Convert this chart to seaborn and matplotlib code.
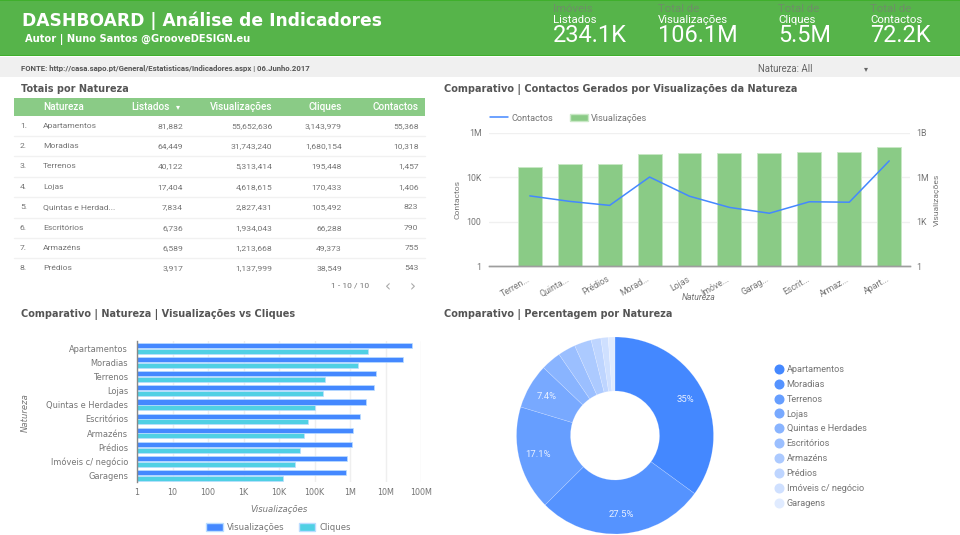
import matplotlib
matplotlib.use("Agg")
import matplotlib.pyplot as plt
from matplotlib.lines import Line2D
from matplotlib.patches import Patch, Rectangle
from matplotlib.transforms import ScaledTranslation
import pandas as pd
import seaborn as sns
import math

# ---------- data ----------
table_names = ["Apartamentos", "Moradias", "Terrenos", "Lojas", "Quintas e Herdad...",
               "Escritórios", "Armazéns", "Prédios"]
table_listados = ["81,882", "64,449", "40,122", "17,404", "7,834", "6,736", "6,589", "3,917"]
table_visual = ["55,652,636", "31,743,240", "5,313,414", "4,618,615", "2,827,431",
                "1,934,043", "1,213,668", "1,137,999"]
table_cliques = ["3,143,979", "1,680,154", "195,448", "170,433", "105,492",
                 "66,288", "49,373", "38,549"]
table_contactos = ["55,368", "10,318", "1,457", "1,406", "823", "790", "755", "543"]

kpi_top = ["Imóveis", "Total de", "Total de", "Total de"]
kpi_mid = ["Listados", "Visualizações", "Cliques", "Contactos"]
kpi_val = ["234.1K", "106.1M", "5.5M", "72.2K"]

combo_labels = ["Terren...", "Quinta...", "Prédios", "Morad...", "Lojas", "Imóve...",
                "Garag...", "Escrit...", "Armaz...", "Apart..."]
combo_views = [4.9e6, 7.5e6, 8.3e6, 3.8e7, 4.4e7, 4.4e7, 4.3e7, 4.9e7, 4.9e7, 1.07e8]
combo_contacts = [1457, 823, 543, 10318, 1406, 440, 240, 790, 755, 55368]

natureza = ["Apartamentos", "Moradias", "Terrenos", "Lojas", "Quintas e Herdades",
            "Escritórios", "Armazéns", "Prédios", "Imóveis c/ negócio", "Garagens"]
h_views = [55652636, 31743240, 5313414, 4618615, 2827431, 1934043, 1213668, 1137999, 810000, 760000]
h_clicks = [3143979, 1680154, 195448, 170433, 105492, 66288, 49373, 38549, 28000, 12600]
share = [35.0, 27.5, 17.1, 7.4, 3.3, 2.9, 2.8, 1.6, 1.2, 1.1]
share_labels = ["35%", "27.5%", "17.1%", "7.4%", "", "", "", "", "", ""]

# ---------- style ----------
GREEN = "#56B44A"
GREEN_EDGE = "#3FAF2C"
LGREEN = "#8ACB86"
BLUE = "#4488FF"
CYAN = "#50D0E4"
GREY = "#757575"
DARK = "#555555"
sns.set_theme(style="white")
plt.rcParams["font.family"] = ["Roboto", "DejaVu Sans"]
plt.rcParams["axes.unicode_minus"] = False

fig = plt.figure(figsize=(9.6, 5.35), dpi=100, facecolor="white")


def axpx(l, t, r, b, **kw):
    return fig.add_axes([l / 960, 1 - b / 535, (r - l) / 960, (b - t) / 535], **kw)


bg = axpx(0, 0, 960, 535)
bg.set_xlim(0, 960)
bg.set_ylim(535, 0)
bg.axis("off")
bg.set_zorder(0)


def px(s):
    return s * 0.72


def T(x, y, s, size, color=GREY, ha="left", weight="normal", family=None, **kw):
    fam = family if family else ["Roboto", "DejaVu Sans"]
    return bg.text(x, y, s, fontsize=px(size), color=color, ha=ha, va="center",
                   fontweight=weight, family=fam, **kw)


# ---------- header ----------
bg.add_patch(Rectangle((0, 0), 960, 55, fc=GREEN, ec="none"))
bg.add_patch(Rectangle((0, 0), 960, 1, fc=GREEN_EDGE, ec="none"))
bg.add_patch(Rectangle((0, 54.5), 960, 1.2, fc=GREEN_EDGE, ec="none"))
bg.add_patch(Rectangle((0, 57), 960, 20, fc="#F0F0F0", ec="none"))
T(22, 20.5, "DASHBOARD | Análise de Indicadores", 17.1, "white", weight="bold", family="DejaVu Sans")
T(25, 39.5, "Autor | Nuno Santos @GrooveDESIGN.eu", 9.9, "white", weight="bold", family="DejaVu Sans")
T(21, 68.5, "FONTE: http://casa.sapo.pt/General/Estatisticas/Indicadores.aspx | 06.Junho.2017",
  7.75, "#555555", weight="bold")
T(758, 68.5, "Natureza: All", 9.6, "#666666")
T(865.7, 68.5, "▾", 8, "#666666", ha="center", family="DejaVu Sans")

for x, a, b, c in zip([553, 658, 778, 870], kpi_top, kpi_mid, kpi_val):
    T(x, 9, a, 11.4, "#6E8F68")
    T(x, 20, b, 11.4, "white")
    T(x, 36, c, 23.5, "white")

# ---------- section titles ----------
for x, y, s in [(21, 88.5, "Totais por Natureza"),
                (444, 89.5, "Comparativo | Contactos Gerados por Visualizações da Natureza"),
                (21, 314, "Comparativo | Natureza | Visualizações vs Cliques"),
                (444, 314.5, "Comparativo | Percentagem por Natureza")]:
    T(x, y, s, 9.8, DARK, weight="bold", family="DejaVu Sans")

# ---------- table ----------
col_right = [183, 272.5, 342, 418.5]
bg.add_patch(Rectangle((14, 98), 411, 18, fc=LGREEN, ec="none"))
T(43, 107, "Natureza", 10, "white", weight="medium")
for xr, s in zip(col_right, ["Listados", "Visualizações", "Cliques", "Contactos"]):
    T(xr - (13 if s == "Listados" else 0), 107, s, 10, "white", ha="right", weight="medium")
T(177.5, 106.5, "▾", 8, "white", ha="center", family="DejaVu Sans")
for i, row in enumerate(zip(table_names, table_listados, table_visual, table_cliques, table_contactos)):
    y = 125.7 + i * 20.4
    T(20, y, f"{i + 1}.", 8.5, GREY)
    T(43, y, row[0], 8.5, GREY)
    for xr, s in zip(col_right, row[1:]):
        T(xr, y, s, 8.5, GREY, ha="right")
    if i < 7:
        bg.plot([14, 425], [y + 10.2, y + 10.2], color="#F1F1F1", lw=1)
T(369, 286, "1 - 10 / 10", 8.5, GREY, ha="right")
T(388, 286.5, "‹", 15, "#A8A8A8", ha="center", family="DejaVu Sans")
T(413, 286.5, "›", 15, "#A8A8A8", ha="center", family="DejaVu Sans")

# ---------- combo chart ----------
ax1 = axpx(489, 133, 910, 266)
ax2 = ax1.twinx()
combo = pd.DataFrame({"n": combo_labels, "views": combo_views, "contacts": combo_contacts})
ax2.set_yscale("log")
sns.barplot(data=combo, x="n", y="views", ax=ax2, color=LGREEN, saturation=1, width=0.6,
            edgecolor="#C9E8C6", linewidth=0.7)
ax1.set_yscale("log")
sns.lineplot(data=combo, x="n", y="contacts", ax=ax1, color=BLUE, lw=1.1, errorbar=None, sort=False)
ax1.set_zorder(ax2.get_zorder() + 1)
ax1.patch.set_visible(False)
ax1.set_ylim(1, 1e6)
ax2.set_ylim(1, 1e9)
ax1.set_xlim(-1.02, 9.52)
ax2.set_xlim(-1.02, 9.52)
ax1.set_yticks([1, 100, 1e4, 1e6], ["1", "100", "10K", "1M"])
ax2.set_yticks([1, 1e3, 1e6, 1e9], ["1", "1K", "1M", "1B"])
ax1.minorticks_off()
ax2.minorticks_off()
ax2.yaxis.grid(True, color="#F0F0F0", lw=1)
ax2.set_axisbelow(True)
ax1.tick_params(axis="y", length=0, labelsize=px(8.8), labelcolor=GREY, pad=5.5)
ax2.tick_params(axis="y", length=0, labelsize=px(8.8), labelcolor=GREY, pad=4.8)
ax1.tick_params(axis="x", length=0, labelsize=px(8.8), labelcolor=GREY, pad=5)
ax2.tick_params(axis="x", length=0, labelbottom=False)
shift = ScaledTranslation(-3 / 100, -1.5 / 100, fig.dpi_scale_trans)
for lab in ax1.get_xticklabels():
    lab.set(rotation=30, ha="right", rotation_mode="anchor")
    lab.set_transform(lab.get_transform() + shift)
for a in (ax1, ax2):
    for k in ("top", "left", "right"):
        a.spines[k].set_visible(False)
    a.spines["bottom"].set_color("#9E9E9E")
    a.spines["bottom"].set_linewidth(1)
ax2.set_xlabel("")
ax1.set_xlabel("Natureza", fontsize=px(8.7), color=GREY, style="italic", labelpad=0)
ax1.xaxis.set_label_coords((699 - 489) / 421, -0.2)
ax1.set_ylabel("Contactos", fontsize=px(8.5), color=GREY, labelpad=0)
ax1.yaxis.set_label_coords((460 - 489) / 421, 0.5)
ax2.set_ylabel("Visualizações", fontsize=px(8.5), color=GREY, labelpad=0)
ax2.yaxis.set_label_coords((934 - 489) / 421, 0.5)
ax1.legend(handles=[Line2D([], [], color=BLUE, lw=1.1, label="Contactos"),
                    Patch(fc=LGREEN, ec="#C9E8C6", label="Visualizações")],
           loc="center left", bbox_to_anchor=(489.7 / 960, 1 - 118 / 535), bbox_transform=fig.transFigure,
           ncol=2, frameon=False, fontsize=px(9.2), labelcolor=GREY, columnspacing=1.8,
           handlelength=1.96, handletextpad=0.38, borderpad=0, borderaxespad=0)

# ---------- horizontal bars ----------
ax3 = axpx(137, 341, 421, 482)
long = pd.DataFrame({"Natureza": natureza * 2,
                     "valor": h_views + h_clicks,
                     "serie": ["Visualizações"] * 10 + ["Cliques"] * 10})
ax3.set_xscale("log")
sns.barplot(data=long, y="Natureza", x="valor", hue="serie", ax=ax3, orient="h",
            palette=[BLUE, CYAN], saturation=1, width=0.8, gap=0.1,
            edgecolor="#BBDDFF", linewidth=0.5, legend=False)
ax3.set_xlim(1, 1e8)
ax3.set_ylim(9.46, -0.52)
ax3.set_xticks([10 ** i for i in range(9)], ["1", "10", "100", "1K", "10K", "100K", "1M", "10M", "100M"])
ax3.minorticks_off()
ax3.xaxis.grid(True, color="#EFEFEF", lw=1)
ax3.set_axisbelow(True)
ax3.tick_params(axis="x", length=0, labelsize=px(8), labelcolor=GREY, pad=4)
ax3.tick_params(axis="y", length=0, labelsize=px(8.3), labelcolor=GREY, pad=6.5)
for lab in ax3.get_yticklabels() + ax3.get_xticklabels():
    lab.set_family("DejaVu Sans")
for k in ("top", "right", "bottom"):
    ax3.spines[k].set_visible(False)
ax3.spines["left"].set_color("#888888")
ax3.spines["left"].set_linewidth(1)
ax3.set_xlabel("Visualizações", fontsize=px(8.5), color=GREY, style="italic", family="DejaVu Sans", labelpad=0)
ax3.xaxis.set_label_coords((279 - 137) / 284, -0.163)
ax3.set_ylabel("Natureza", fontsize=px(8.5), color=GREY, style="italic", family="DejaVu Sans", labelpad=0)
ax3.yaxis.set_label_coords((30 - 137) / 284, 0.496)
ax3.legend(handles=[Patch(fc=BLUE, ec="#BBDDFF", label="Visualizações"),
                    Patch(fc=CYAN, ec="#BBDDFF", label="Cliques")],
           loc="center", bbox_to_anchor=(278.5 / 960, 1 - 527.7 / 535), bbox_transform=fig.transFigure,
           ncol=2, frameon=False, prop={"family": "DejaVu Sans", "size": px(8.5)}, labelcolor=GREY,
           columnspacing=1.65, handlelength=1.96, handleheight=1.0, handletextpad=0.47,
           borderpad=0, borderaxespad=0)

# ---------- donut ----------
ax4 = axpx(515, 335.5, 715, 535.5)
pie_colors = sns.blend_palette(["#4488FF", "#E0EBFF"], 10)
wedges, _ = ax4.pie(share, colors=pie_colors, startangle=90, counterclock=False, radius=0.985,
                    center=(0, 0), wedgeprops={"width": 0.985 - 0.445, "edgecolor": "#FFFFFF44", "linewidth": 0.4})
ax4.set_xlim(-1, 1)
ax4.set_ylim(-1, 1)
cum = 0
for v, s in zip(share, share_labels):
    ang = math.radians(90 - (cum + v / 2) * 3.6)
    cum += v
    if s:
        ax4.text(0.79 * math.cos(ang), 0.79 * math.sin(ang), s, color="#E8F0FF",
                 fontsize=px(9.5), ha="center", va="center")
ax4.legend(handles=[Line2D([], [], marker="o", ls="", ms=6.2, mfc=c, mec=c, label=n)
                    for c, n in zip(pie_colors, natureza)],
           loc="upper left", bbox_to_anchor=(775 / 960, 1 - 365 / 535), bbox_transform=fig.transFigure,
           frameon=False, fontsize=px(9.1), labelcolor=GREY, labelspacing=0.645,
           handlelength=0.8, handletextpad=0.48, borderpad=0, borderaxespad=0)

for a in (ax1, ax2, ax3, ax4):
    a.set_facecolor("none")

fig.savefig("out.png", dpi=100, facecolor="white")
